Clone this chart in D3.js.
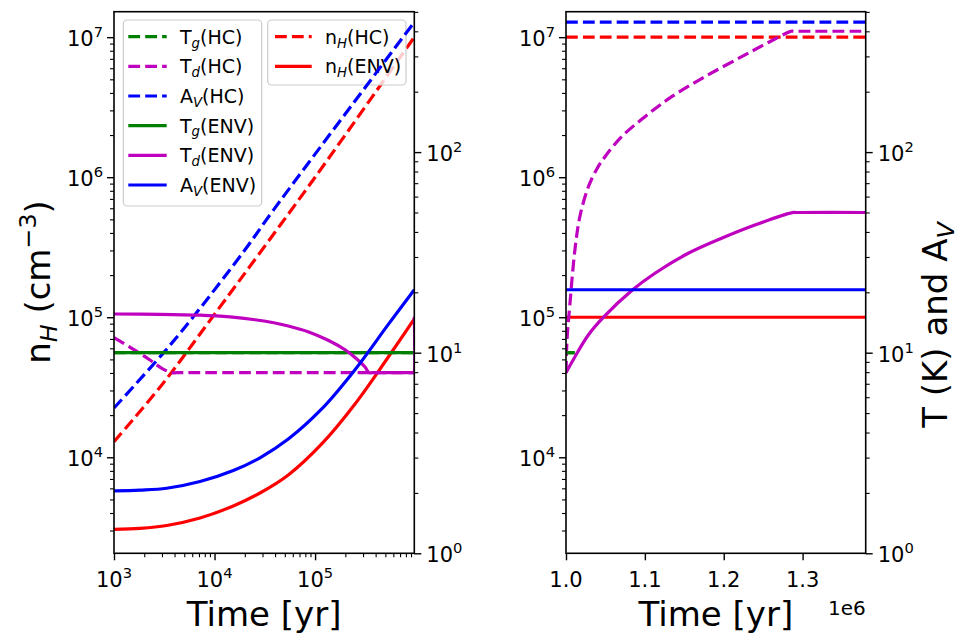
<!DOCTYPE html>
<html><head><meta charset="utf-8">
<script src="https://cdn.jsdelivr.net/npm/d3@7"></script>
<style>body{margin:0;background:#fff} text{font-family:"DejaVu Sans",sans-serif;fill:#000}</style>
</head><body><svg id="c" width="962" height="637"></svg>
<script>
// ---------------- data (time [yr], value) ----------------
// Left panel: phase 1 (log time)
const nH_HC_1  = [[1e3,1.29e4],[3e3,3.3e4],[1e4,1.05e5],[1e5,1.0e6],[9.7e5,1.0e7]];
const nH_ENV_1 = [[1e3,3060],[1813,3111],[3344,3258],[7169,3685],[15370,4488],[28320,5559],[54150,7475],[116400,12450],[249500,24030],[535000,52040],[9.7e5,97250]];
const Tg_HC_1  = [[1e3,10],[9.7e5,10]];
const Td_HC_1  = [[1e3,11.9],[1.56e3,10.4],[2.28e3,9.2],[2.99e3,8.36],[3.75e3,7.95],[4.2e3,7.95],[9.7e5,7.95]];
const Av_HC_1  = [[1e3,5.3],[3.09e3,9.95],[6.15e3,15.1],[2.0e4,32.5],[3.85e4,51.4],[9.7e5,444]];
const Tg_ENV_1 = [[1e3,10],[9.7e5,10]];
const Td_ENV_1 = [[1e3,15.59],[2867,15.54],[7169,15.38],[14250,15.07],[25260,14.59],[39930,14.06],[54150,13.59],[86440,12.69],[136600,11.5],[200300,10.31],[249500,9.465],[313700,8.487],[343900,7.95],[3.7e5,7.95],[9.5e5,7.95],[9.6e5,7.95],[9.7e5,15.1]];
const Av_ENV_1 = [[1e3,2.045],[1813,2.064],[3344,2.109],[7169,2.278],[15370,2.584],[28320,2.993],[54150,3.71],[116400,5.241],[249500,8.228],[535000,13.84],[9.7e5,20.59]];
// Right panel: phase 2 (linear time)
const nH_HC_2  = [[1e6,1e7],[1.38e6,1e7]];
const nH_ENV_2 = [[1e6,1e5],[1.38e6,1e5]];
const Tg_HC_2  = [[1e6,10],[1.011e6,10]];
const Td_HC_2  = [[1e6,7.95],[1.00127e6,11.57],[1.00507e6,17.69],[1.01141e6,32.88],[1.01775e6,48.03],[1.02827e6,66.99],[1.03931e6,82.66],[1.04945e6,94.86],[1.07063e6,119.4],[1.10017e6,150.2],[1.13403e6,188.9],[1.17625e6,237.7],[1.22278e6,299.0],[1.25651e6,351.9],[1.28187e6,395.6],[1.28529e6,400.2],[1.29e6,400.2],[1.38e6,400.2]];
const Av_HC_2  = [[1e6,444],[1.38e6,444]];
const Tg_ENV_2 = [[1e6,10],[1.011e6,10]];
const Td_ENV_2 = [[1e6,7.95],[1.0114e6,9.55],[1.0283e6,12.25],[1.0473e6,15.0],[1.0853e6,20.7],[1.1128e6,24.9],[1.155e6,31.3],[1.1973e6,37.2],[1.2395e6,43.3],[1.2868e6,49.9],[1.292e6,50],[1.38e6,50]];
const Av_ENV_2 = [[1e6,20.6],[1.38e6,20.6]];
// axis ticks
const xTicksLin = [1.0e6,1.1e6,1.2e6,1.3e6];
const xTickLinLabels = ["1.0","1.1","1.2","1.3"];
const nHDomain = [2062,1.52e7];
const TDomain = [1,501];

// ---------------- layout ----------------
const svg = d3.select("#c");
const P1 = {x0:114, x1:414.3, y0:11.7, y1:553.3};
const P2 = {x0:566, x1:865.7, y0:11.7, y1:553.3};
const yN = d3.scaleLog().domain(nHDomain).range([P1.y1,P1.y0]);
const yT = d3.scaleLog().domain(TDomain).range([P1.y1,P1.y0]);
const xL = d3.scaleLog().domain([1e3,9.7e5]).range([P1.x0,P1.x1]);
const xR = d3.scaleLinear().domain([1e6,1.38e6]).range([P2.x0,P2.x1]);

const C = {g:"#008000", m:"#bf00bf", b:"#0000ff", r:"#ff0000"};
const LW = 3.2, DASH = "11.8,5.1";
const TICKFS = 21;

function majors(d){const o=[];for(let e=-2;e<10;e++){const v=Math.pow(10,e);if(v>=d[0]&&v<=d[1])o.push(v);}return o;}
function minors(d){const o=[];for(let e=-2;e<10;e++)for(let k=2;k<=9;k++){const v=k*Math.pow(10,e);if(v>=d[0]&&v<=d[1])o.push(v);}return o;}

function rich(g,x,y,parts,size){
  const t=g.append("text").attr("x",x).attr("y",y).attr("font-size",size);
  let shift=0;
  parts.forEach(p=>{
    const s=t.append("tspan").text(p.t);
    const target = p.sub? size*0.2 : p.sup? -size*0.42 : 0;
    if(target!==shift){ s.attr("dy",target-shift); shift=target; }
    if(p.sub||p.sup) s.attr("font-size",size*0.7);
    if(p.it) s.attr("font-style","italic");
  });
  return t;
}
function powLabel(g,x,y,e,anchor){
  const t=g.append("text").attr("x",x).attr("y",y).attr("text-anchor",anchor).attr("font-size",TICKFS);
  t.append("tspan").text("10");
  t.append("tspan").attr("dy",-9).attr("font-size",TICKFS*0.7).text(e);
}

// clip paths
const defs=svg.append("defs");
defs.append("clipPath").attr("id","cl1").append("rect").attr("x",P1.x0).attr("y",P1.y0).attr("width",P1.x1-P1.x0).attr("height",P1.y1-P1.y0);
defs.append("clipPath").attr("id","cl2").append("rect").attr("x",P2.x0).attr("y",P2.y0).attr("width",P2.x1-P2.x0).attr("height",P2.y1-P2.y0);

function drawLine(g,data,xs,ys,color,dashed){
  const line=d3.line().x(d=>xs(d[0])).y(d=>ys(d[1])).curve(d3.curveCatmullRom.alpha(0.5));
  g.append("path").attr("d",line(data)).attr("fill","none").attr("stroke",color)
   .attr("stroke-width",LW).attr("stroke-dasharray",dashed?DASH:null).attr("stroke-linejoin","round");
}

function legend(g,x,y,w,h,entries,hx0,hx1,tx,rowY){
  g.append("rect").attr("x",x).attr("y",y).attr("width",w).attr("height",h).attr("rx",4)
   .attr("fill","#fff").attr("fill-opacity",0.8).attr("stroke","#cccccc").attr("stroke-width",1.2);
  entries.forEach((e,i)=>{
    const cy=rowY(i);
    g.append("line").attr("x1",hx0).attr("x2",hx1).attr("y1",cy).attr("y2",cy).attr("stroke",e.c)
     .attr("stroke-width",LW).attr("stroke-dasharray",e.d?DASH:null);
    rich(g,tx,cy+7,e.parts,19);
  });
}

function panel(P,xs,isLog,data,legends){
  const gN=svg.append("g").attr("clip-path",`url(#${P===P1?"cl1":"cl2"})`);
  drawLine(gN,data.nH_HC,xs,yN,C.r,true);
  drawLine(gN,data.nH_ENV,xs,yN,C.r,false);
  if(legends){
    legend(svg.append("g"),267.7,20,138.3,65,[
      {c:C.r,d:true,parts:[{t:"n"},{t:"H",sub:1,it:1},{t:"(HC)"}]},
      {c:C.r,d:false,parts:[{t:"n"},{t:"H",sub:1,it:1},{t:"(ENV)"}]}
    ],275,311.7,325,i=>36.7+i*29.7);
  }
  const gT=svg.append("g").attr("clip-path",`url(#${P===P1?"cl1":"cl2"})`);
  drawLine(gT,data.Tg_HC,xs,yT,C.g,true);
  drawLine(gT,data.Td_HC,xs,yT,C.m,true);
  drawLine(gT,data.Av_HC,xs,yT,C.b,true);
  drawLine(gT,data.Tg_ENV,xs,yT,C.g,false);
  drawLine(gT,data.Td_ENV,xs,yT,C.m,false);
  drawLine(gT,data.Av_ENV,xs,yT,C.b,false);
  if(legends){
    legend(svg.append("g"),123.3,20,138.4,186,[
      {c:C.g,d:true,parts:[{t:"T"},{t:"g",sub:1,it:1},{t:"(HC)"}]},
      {c:C.m,d:true,parts:[{t:"T"},{t:"d",sub:1,it:1},{t:"(HC)"}]},
      {c:C.b,d:true,parts:[{t:"A"},{t:"V",sub:1,it:1},{t:"(HC)"}]},
      {c:C.g,d:false,parts:[{t:"T"},{t:"g",sub:1,it:1},{t:"(ENV)"}]},
      {c:C.m,d:false,parts:[{t:"T"},{t:"d",sub:1,it:1},{t:"(ENV)"}]},
      {c:C.b,d:false,parts:[{t:"A"},{t:"V",sub:1,it:1},{t:"(ENV)"}]}
    ],128.3,166.7,180,i=>36.7+i*29.66);
  }
  // axes
  const ax=svg.append("g");
  const yNs=yN.copy().range([P.y1,P.y0]), yTs=yT.copy().range([P.y1,P.y0]);
  const tk=(a,len)=>a.tickSize(len).tickFormat("");
  const styleAx=(g,w)=>{g.select(".domain").remove();g.selectAll("line").attr("stroke","#000").attr("stroke-width",w);};
  ax.append("g").attr("transform",`translate(${P.x0},0)`).call(tk(d3.axisLeft(yNs).tickValues(majors(nHDomain)),7)).call(g=>styleAx(g,1.4));
  ax.append("g").attr("transform",`translate(${P.x0},0)`).call(tk(d3.axisLeft(yNs).tickValues(minors(nHDomain)),4)).call(g=>styleAx(g,1.1));
  ax.append("g").attr("transform",`translate(${P.x1},0)`).call(tk(d3.axisRight(yTs).tickValues(majors(TDomain)),7)).call(g=>styleAx(g,1.4));
  ax.append("g").attr("transform",`translate(${P.x1},0)`).call(tk(d3.axisRight(yTs).tickValues(minors(TDomain)),4)).call(g=>styleAx(g,1.1));
  majors(nHDomain).forEach(v=>powLabel(ax,P.x0-11,yNs(v)+9,Math.round(Math.log10(v)),"end"));
  majors(TDomain).forEach(v=>powLabel(ax,P.x1+12,yTs(v)+9,Math.round(Math.log10(v)),"start"));
  if(isLog){
    const d=xs.domain();
    ax.append("g").attr("transform",`translate(0,${P.y1})`).call(tk(d3.axisBottom(xs).tickValues(majors(d)),7)).call(g=>styleAx(g,1.4));
    ax.append("g").attr("transform",`translate(0,${P.y1})`).call(tk(d3.axisBottom(xs).tickValues(minors(d)),4)).call(g=>styleAx(g,1.1));
    majors(d).forEach(v=>powLabel(ax,xs(v),587,Math.round(Math.log10(v)),"middle"));
  } else {
    ax.append("g").attr("transform",`translate(0,${P.y1})`).call(tk(d3.axisBottom(xs).tickValues(xTicksLin),7)).call(g=>styleAx(g,1.4));
    xTicksLin.forEach((v,i)=>ax.append("text").attr("x",xs(v)).attr("y",587).attr("text-anchor","middle").attr("font-size",TICKFS).text(xTickLinLabels[i]));
    ax.append("text").attr("x",P.x1).attr("y",615).attr("text-anchor","end").attr("font-size",20).text("1e6");
  }
  ax.append("rect").attr("x",P.x0).attr("y",P.y0).attr("width",P.x1-P.x0).attr("height",P.y1-P.y0)
    .attr("fill","none").attr("stroke","#000").attr("stroke-width",1.6);
  ax.append("text").attr("x",(P.x0+P.x1)/2).attr("y",626).attr("text-anchor","middle").attr("font-size",34).text("Time [yr]");
}

panel(P1,xL,true,{nH_HC:nH_HC_1,nH_ENV:nH_ENV_1,Tg_HC:Tg_HC_1,Td_HC:Td_HC_1,Av_HC:Av_HC_1,Tg_ENV:Tg_ENV_1,Td_ENV:Td_ENV_1,Av_ENV:Av_ENV_1},true);
panel(P2,xR,false,{nH_HC:nH_HC_2,nH_ENV:nH_ENV_2,Tg_HC:Tg_HC_2,Td_HC:Td_HC_2,Av_HC:Av_HC_2,Tg_ENV:Tg_ENV_2,Td_ENV:Td_ENV_2,Av_ENV:Av_ENV_2},false);

// y axis labels
rich(svg.append("g"),0,0,[{t:"n"},{t:"H",sub:1,it:1},{t:" (cm"},{t:"−3",sup:1},{t:")"}],34)
  .attr("text-anchor","middle").attr("transform","translate(50,282) rotate(-90)");
rich(svg.append("g"),0,0,[{t:"T (K) and A"},{t:"V",sub:1,it:1}],34)
  .attr("text-anchor","middle").attr("transform","translate(947,325) rotate(-90)");
</script></body></html>
